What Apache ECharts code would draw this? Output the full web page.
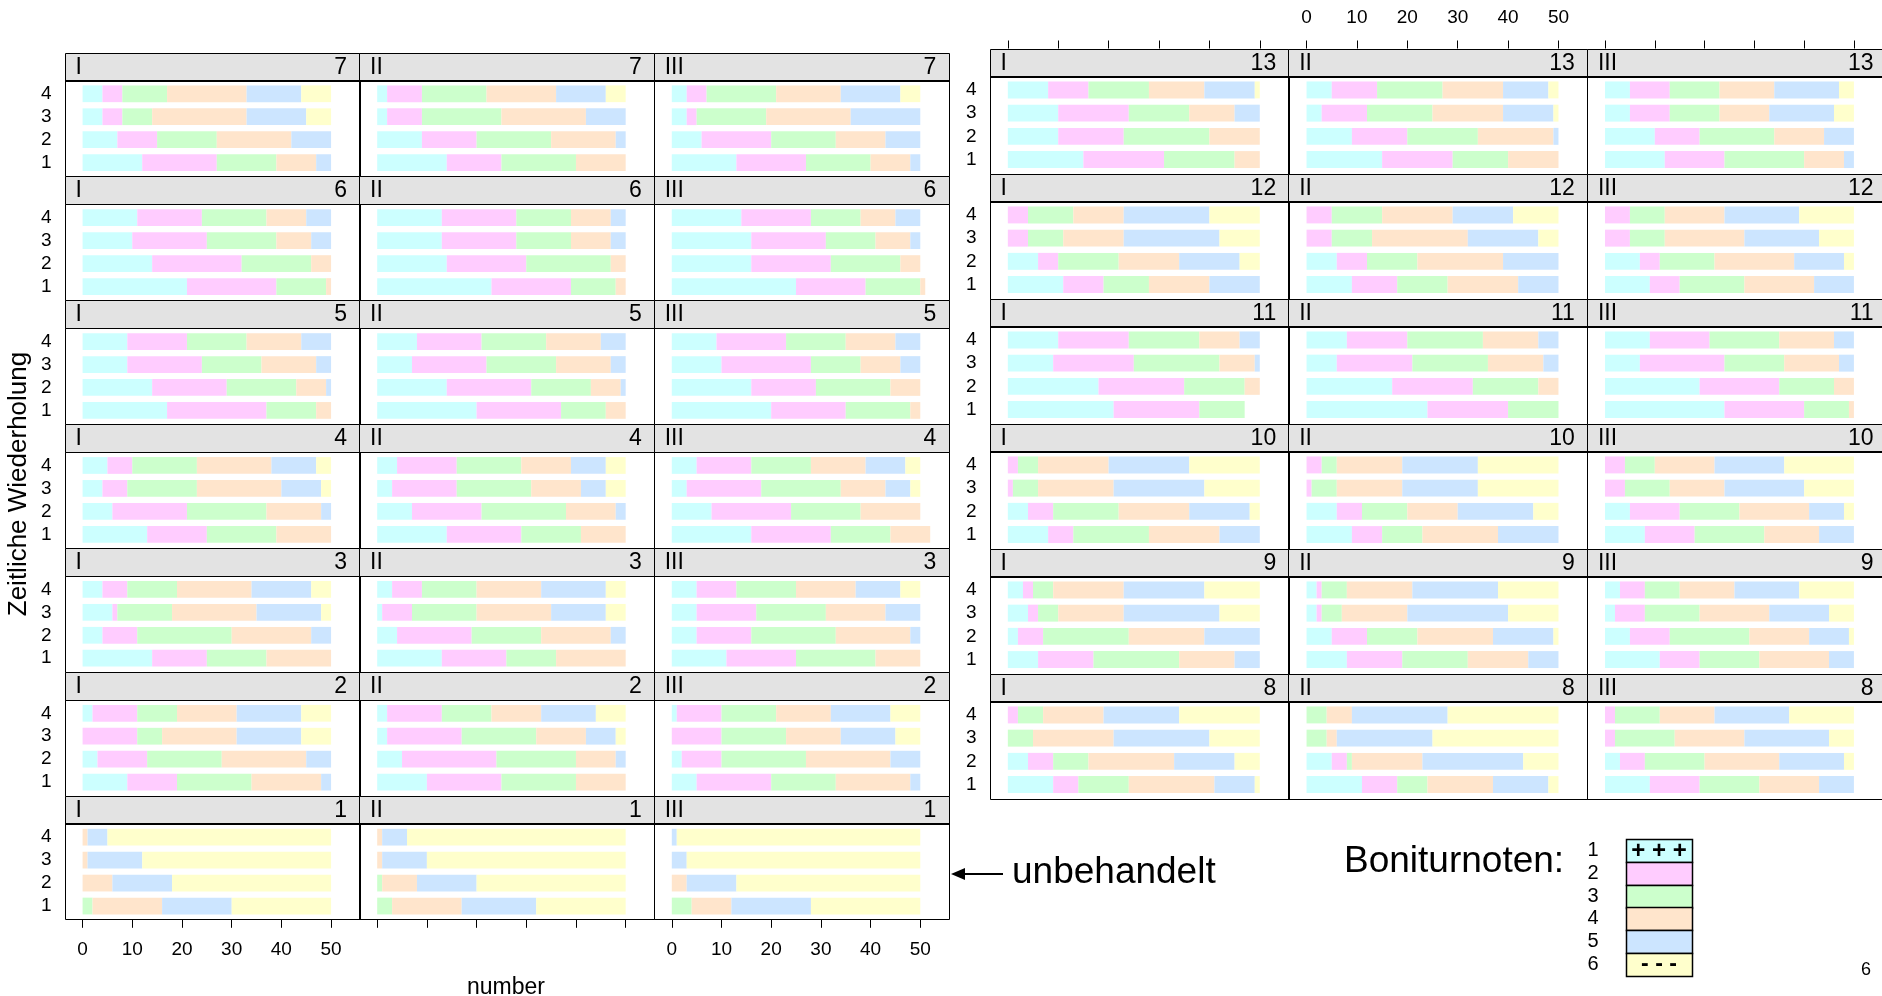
<!DOCTYPE html>
<html>
<head>
<meta charset="utf-8">
<script src="https://cdn.jsdelivr.net/npm/echarts@6/dist/echarts.min.js"></script>
<style>
  html, body { margin: 0; padding: 0; background: #fff; }
  #chart { width: 1882px; height: 996px; }
</style>
</head>
<body>
<div id="chart"></div>
<script>
// Boniturnoten (grades) and their fill colours
const grades = ['1', '2', '3', '4', '5', '6'];
const gradeColors = ['#CCFFFF', '#FFCCFF', '#CCFFCC', '#FFE5CC', '#CCE5FF', '#FFFFCC'];
const blocks = ['I', 'II', 'III'];
const reps = ['1', '2', '3', '4'];          // Zeitliche Wiederholung
const xTicks = [0, 10, 20, 30, 40, 50];

// Counts per treatment: [block I, II, III] -> repetitions 1..4 -> grades 1..6
const beh1 = [
  [[0,0,2,14,14,20], [0,0,0,6,12,32], [0,0,0,1,11,38], [0,0,0,1,4,45]],
  [[0,0,3,14,15,18], [0,0,1,7,12,30], [0,0,0,1,9,40], [0,0,0,1,5,44]],
  [[0,0,4,8,16,22], [0,0,0,3,10,37], [0,0,0,0,3,47], [0,0,0,0,1,49]]
];
const beh2 = [
  [[9,10,15,14,2,0], [3,10,15,17,5,0], [0,11,5,15,13,6], [2,9,8,12,13,6]],
  [[10,15,15,10,0,0], [5,19,16,8,2,0], [2,15,15,10,6,2], [2,11,10,10,11,6]],
  [[5,15,13,15,2,0], [2,8,17,17,6,0], [0,10,13,11,11,5], [1,9,11,11,12,6]]
];
const beh3 = [
  [[14,11,12,13,0,0], [4,7,19,16,4,0], [6,1,11,17,13,2], [4,5,10,15,12,4]],
  [[13,13,10,14,0,0], [4,15,14,14,3,0], [1,6,13,15,11,4], [3,6,11,13,13,4]],
  [[11,14,16,9,0,0], [5,11,17,15,2,0], [5,12,14,12,7,0], [5,8,12,12,9,4]]
];
const beh4 = [
  [[13,12,14,11,0,0], [6,15,16,11,2,0], [4,5,14,17,8,2], [5,5,13,15,9,3]],
  [[14,15,12,9,0,0], [7,14,17,10,2,0], [3,13,15,10,5,4], [4,12,13,10,7,4]],
  [[16,16,12,8,0,0], [8,16,14,12,0,0], [3,15,16,9,5,2], [5,11,12,11,8,3]]
];
const beh5 = [
  [[17,20,10,3,0,0], [14,15,14,6,1,0], [9,15,12,11,3,0], [9,12,12,11,6,0]],
  [[20,17,9,4,0,0], [14,17,12,6,1,0], [7,15,14,11,3,0], [8,13,13,11,5,0]],
  [[20,15,13,2,0,0], [16,13,15,6,0,0], [10,18,10,8,4,0], [9,14,12,10,5,0]]
];
const beh6 = [
  [[21,18,10,1,0,0], [14,18,14,4,0,0], [10,15,14,7,4,0], [11,13,13,8,5,0]],
  [[23,16,9,2,0,0], [14,16,17,3,0,0], [13,15,11,8,3,0], [13,15,11,8,3,0]],
  [[25,14,11,1,0,0], [16,16,14,4,0,0], [16,15,10,7,2,0], [14,14,10,7,5,0]]
];
const beh7 = [
  [[12,15,12,8,3,0], [7,8,12,15,8,0], [4,4,6,19,12,5], [4,4,9,16,11,6]],
  [[14,11,15,10,0,0], [9,11,15,13,2,0], [2,7,16,17,8,0], [2,7,13,14,10,4]],
  [[13,14,13,8,2,0], [6,14,13,10,7,0], [3,2,14,17,14,0], [3,4,14,13,12,4]]
];
const beh8 = [
  [[9,5,10,17,8,1], [4,5,7,17,12,5], [0,0,5,16,19,10], [0,2,5,12,15,16]],
  [[11,7,6,13,11,2], [5,3,1,14,20,7], [0,0,4,2,19,25], [0,0,4,5,19,22]],
  [[9,10,12,12,7,0], [3,5,12,15,13,2], [0,2,12,14,17,5], [0,2,9,11,15,13]]
];
const beh9 = [
  [[6,11,17,11,5,0], [2,5,17,15,11,0], [4,2,4,13,19,8], [3,2,4,14,16,11]],
  [[8,11,13,12,6,0], [5,7,10,15,12,1], [2,1,4,13,20,10], [2,1,5,13,17,12]],
  [[11,8,12,14,5,0], [5,8,16,12,8,1], [2,6,11,14,12,5], [3,5,7,11,13,11]]
];
const beh10 = [
  [[8,5,15,14,8,0], [4,5,13,14,12,2], [0,1,5,15,18,11], [0,2,4,14,16,14]],
  [[9,6,8,15,12,0], [6,5,9,10,15,5], [0,1,5,13,15,16], [0,3,3,13,15,16]],
  [[8,10,14,11,7,0], [5,10,12,14,7,2], [0,4,9,11,16,10], [0,4,6,12,14,14]]
];
const beh11 = [
  [[21,17,9,0,0,0], [18,17,12,3,0,0], [9,16,17,7,1,0], [10,14,14,8,4,0]],
  [[24,16,10,0,0,0], [17,16,13,4,0,0], [6,15,15,11,3,0], [8,12,15,11,4,0]],
  [[24,16,9,1,0,0], [19,16,11,4,0,0], [7,17,12,11,3,0], [9,12,14,11,4,0]]
];
const beh12 = [
  [[11,8,9,12,10,0], [6,4,12,12,12,4], [0,4,7,12,19,8], [0,4,9,10,17,10]],
  [[9,9,10,14,8,0], [6,6,10,17,11,0], [0,5,8,19,14,4], [0,5,10,14,12,9]],
  [[9,6,13,14,8,0], [7,4,11,16,10,2], [0,5,7,16,15,7], [0,5,7,12,15,11]]
];
const beh13 = [
  [[15,16,14,5,0,0], [10,13,17,10,0,0], [10,14,12,9,5,0], [8,8,12,11,10,1]],
  [[15,14,11,10,0,0], [9,11,14,15,1,0], [3,9,13,14,10,1], [5,9,13,12,9,2]],
  [[12,12,16,8,2,0], [10,9,15,10,6,0], [5,8,10,10,13,4], [5,8,10,11,13,3]]
];
const behandlung = [null, beh1, beh2, beh3, beh4, beh5, beh6, beh7,
                    beh8, beh9, beh10, beh11, beh12, beh13];

// Panel layout of the two trellis blocks
const FONT = '"Liberation Sans", Arial, sans-serif';
const STRIP_H = 27.5;
const XMIN = -3.64, XMAX = 55.64;
const leftBlock = { x0: 64.5, colW: 294.6, top: 52.5, rowH: 123.9,
                    rows: [7, 6, 5, 4, 3, 2, 1], axis: 'bottom', labelCols: [0, 2], labelMargin: 20 };
const rightBlock = { x0: 989.5, colW: 298.7, top: 48.5, rowH: 125,
                     rows: [13, 12, 11, 10, 9, 8], axis: 'top', labelCols: [1], labelMargin: 21 };

const grids = [], xAxes = [], yAxes = [], series = [], graphics = [];

function addBlock(cfg) {
  const nRows = cfg.rows.length;
  cfg.rows.forEach((t, r) => {
    blocks.forEach((b, c) => {
      const px = cfg.x0 + c * cfg.colW;
      const py = cfg.top + r * cfg.rowH;
      const pTop = py + STRIP_H;
      const pH = cfg.rowH - STRIP_H;
      const unit = pH / 4.2;
      const pad = 0.1 * unit;
      const g = grids.length;
      const axisRow = cfg.axis === 'bottom' ? r === nRows - 1 : r === 0;
      // a top axis sits above the strip, a bottom axis on the panel frame
      const axisOffset = cfg.axis === 'top' ? pad + STRIP_H : pad;

      grids.push({ left: px, top: pTop + pad, width: cfg.colW, height: 4 * unit });
      xAxes.push({
        gridIndex: g, type: 'value', min: XMIN, max: XMAX,
        position: cfg.axis, offset: axisOffset,
        axisLine: { show: false, onZero: false }, splitLine: { show: false },
        axisTick: { show: axisRow, inside: false, length: 8, customValues: xTicks,
                    lineStyle: { color: '#000', width: 1 } },
        axisLabel: { show: axisRow && cfg.labelCols.includes(c), customValues: xTicks,
                     margin: cfg.labelMargin, fontSize: 19, color: '#000', fontFamily: FONT }
      });
      yAxes.push({
        gridIndex: g, type: 'category', data: reps, position: 'left',
        axisLine: { show: false, onZero: false }, splitLine: { show: false },
        axisTick: { show: false },
        axisLabel: { show: c === 0, interval: 0, margin: 13, fontSize: 19, color: '#000', fontFamily: FONT }
      });

      const counts = behandlung[t][c];
      grades.forEach((gr, k) => {
        series.push({
          type: 'bar', name: gr, xAxisIndex: g, yAxisIndex: g, stack: 'panel' + g,
          barWidth: '73%', silent: true,
          itemStyle: { color: gradeColors[k] },
          data: counts.map(rep => rep[k])
        });
      });

      // strip with block and treatment labels
      graphics.push({
        type: 'rect', z: 5,
        shape: { x: Math.round(px) + 0.5, y: Math.round(py) + 0.5, width: Math.round(cfg.colW), height: Math.round(STRIP_H) },
        style: { fill: '#E3E3E3', stroke: '#000', lineWidth: 1 }
      });
      graphics.push({
        type: 'text', z: 6, x: px + 11, y: py + STRIP_H / 2 + 1,
        style: { text: b, fill: '#000', fontSize: 23, fontFamily: FONT,
                 align: 'left', verticalAlign: 'middle', textAlign: 'left', textVerticalAlign: 'middle' }
      });
      graphics.push({
        type: 'text', z: 6, x: px + cfg.colW - 12, y: py + STRIP_H / 2 + 1,
        style: { text: String(t), fill: '#000', fontSize: 23, fontFamily: FONT,
                 align: 'right', verticalAlign: 'middle', textAlign: 'right', textVerticalAlign: 'middle' }
      });
      // panel frame
      graphics.push({
        type: 'rect', z: 5,
        shape: { x: Math.round(px) + 0.5, y: Math.round(pTop) + 0.5, width: Math.round(cfg.colW), height: Math.round(pH) },
        style: { fill: 'none', stroke: '#000', lineWidth: 1 }
      });
    });
  });
}
addBlock(leftBlock);
addBlock(rightBlock);

// axis titles
graphics.push({
  type: 'text', x: 19, y: 484, rotation: Math.PI / 2,
  style: { text: 'Zeitliche Wiederholung', fill: '#000', fontSize: 26, fontFamily: FONT,
           align: 'center', verticalAlign: 'middle', textAlign: 'center', textVerticalAlign: 'middle' }
});
graphics.push({
  type: 'text', x: 506, y: 988,
  style: { text: 'number', fill: '#000', fontSize: 23, fontFamily: FONT,
           align: 'center', verticalAlign: 'middle', textAlign: 'center', textVerticalAlign: 'middle' }
});

// pointer to the untreated control
graphics.push({
  type: 'line', shape: { x1: 962, y1: 874, x2: 1003, y2: 874 },
  style: { stroke: '#000', lineWidth: 2 }
});
graphics.push({
  type: 'polygon', shape: { points: [[951, 874], [965, 868], [965, 880]] },
  style: { fill: '#000' }
});
graphics.push({
  type: 'text', x: 1012, y: 873,
  style: { text: 'unbehandelt', fill: '#000', fontSize: 37, fontFamily: FONT,
           align: 'left', verticalAlign: 'middle', textAlign: 'left', textVerticalAlign: 'middle' }
});

// grade key
const keyX = 1626, keyTop = 839, keyW = 66, keyH = 22.8;
graphics.push({
  type: 'text', x: 1344, y: 862,
  style: { text: 'Boniturnoten:', fill: '#000', fontSize: 37, fontFamily: FONT,
           align: 'left', verticalAlign: 'middle', textAlign: 'left', textVerticalAlign: 'middle' }
});
grades.forEach((gr, k) => {
  const y = keyTop + k * keyH;
  graphics.push({
    type: 'rect', shape: { x: keyX + 0.5, y: Math.round(y) + 0.5, width: keyW, height: Math.round(keyH) },
    style: { fill: gradeColors[k], stroke: '#000', lineWidth: 1.5 }
  });
  graphics.push({
    type: 'text', x: 1593, y: y + keyH / 2,
    style: { text: gr, fill: '#000', fontSize: 20, fontFamily: FONT,
             align: 'center', verticalAlign: 'middle', textAlign: 'center', textVerticalAlign: 'middle' }
  });
});
graphics.push({
  type: 'text', x: keyX + keyW / 2, y: keyTop + keyH / 2 + 1,
  style: { text: '+ + +', fill: '#000', fontSize: 24, fontWeight: 'bold', fontFamily: FONT,
           align: 'center', verticalAlign: 'middle', textAlign: 'center', textVerticalAlign: 'middle' }
});
graphics.push({
  type: 'text', x: keyX + keyW / 2, y: keyTop + 5 * keyH + keyH / 2,
  style: { text: '- - -', fill: '#000', fontSize: 23, fontWeight: 'bold', fontFamily: FONT,
           align: 'center', verticalAlign: 'middle', textAlign: 'center', textVerticalAlign: 'middle' }
});

// page number
graphics.push({
  type: 'text', x: 1866, y: 970,
  style: { text: '6', fill: '#000', fontSize: 18, fontFamily: FONT,
           align: 'center', verticalAlign: 'middle', textAlign: 'center', textVerticalAlign: 'middle' }
});

const chart = echarts.init(document.getElementById('chart'), null, { renderer: 'canvas' });
chart.setOption({
  animation: false,
  backgroundColor: '#fff',
  textStyle: { fontFamily: FONT },
  grid: grids,
  xAxis: xAxes,
  yAxis: yAxes,
  series: series,
  graphic: graphics
});
</script>
</body>
</html>
